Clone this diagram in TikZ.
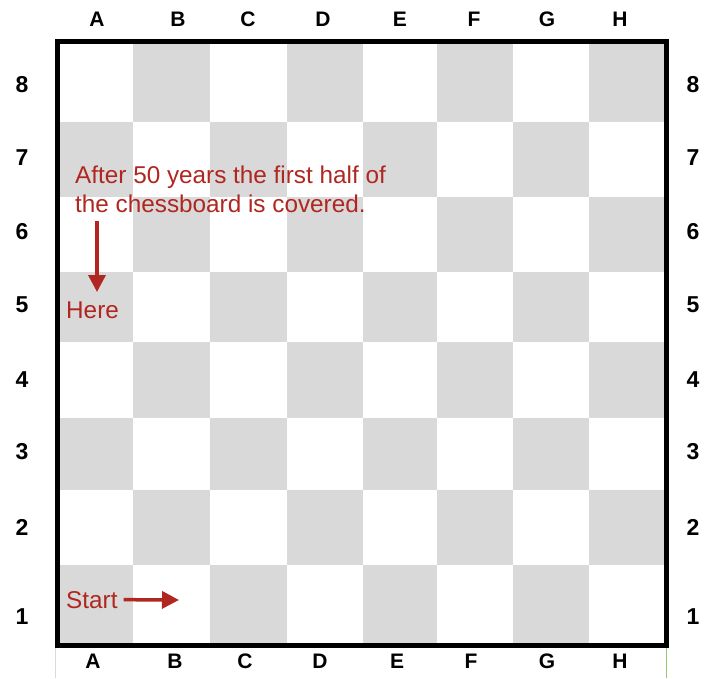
\documentclass[tikz,border=0pt]{standalone}
\usepackage{tikz}
\usetikzlibrary{arrows.meta}
\usepackage{fontspec}
\setmainfont{Liberation Sans}
\definecolor{sqgray}{RGB}{217,217,217}
\definecolor{notered}{RGB}{176,38,32}
\definecolor{edgegreen}{RGB}{150,200,110}

\begin{document}
\begin{tikzpicture}[x=1pt, y=-1pt,
		file/.style={font=\fontsize{21}{21}\selectfont\bfseries},
		rank/.style={font=\fontsize{23}{23}\selectfont\bfseries},
		note/.style={text=notered, inner sep=0pt, font=\fontsize{24.3}{29}\selectfont},
		redarrow/.style={-{Triangle[length=17pt, width=17pt]}, line width=3.5pt, notered}
		]
		\useasboundingbox (0,0) rectangle (710,678);
		% squares
		\foreach \xa/\xb [count=\c] in {57/133,133/210,210/287,287/363,363/437,437/513,513/589,589/666}
			\foreach \ya/\yb [count=\r] in {41/122,122/197,197/272,272/342,342/418,418/490,490/565,565/645}
			{
				\pgfmathtruncatemacro{\odd}{mod(\c+\r,2)}
				\ifnum\odd=1 \fill[sqgray] (\xa,\ya) rectangle (\xb,\yb); \fi
			}
		\draw[edgegreen, line width=1pt] (666,645) -- (666,678);
		\draw[black!15, line width=1pt] (55,645) -- (55,678);
		\draw[line width=5pt, line cap=rect] (57,41) rectangle (666,645);
		% files and ranks
		\foreach \l/\xt/\xb in {A/97/93,B/178/175,C/248/245,D/323/320,E/400/397,F/474/471,G/547/547,H/620/620} {
			\node[file] (top\l) at (\xt,19) {\l};
			\node[file] (bot\l) at (\xb,661) {\l};
		}
		\foreach \n/\y in {8/85,7/158,6/232,5/305,4/380,3/452,2/527,1/617} {
			\node[rank] (left\n) at (22,\y) {\n};
			\node[rank] (right\n) at (693,\y) {\n};
		}
		% notes
		\node[note, align=left, anchor=base west] (half) at (75,212) {After 50 years the first half of\\the chessboard is covered.};
		\node[note, anchor=base west] (here) at (66,318) {Here};
		\node[note, anchor=base west] (start) at (66,608) {Start};
		\coordinate (heretip) at (97,292);
		\coordinate (starttip) at (179,600);
		\draw[redarrow, shorten <=9pt] (half.south -| heretip) -- (heretip);
		\draw[redarrow, shorten <=6pt] (start.east) -- (starttip);
	\end{tikzpicture}
\end{document}
